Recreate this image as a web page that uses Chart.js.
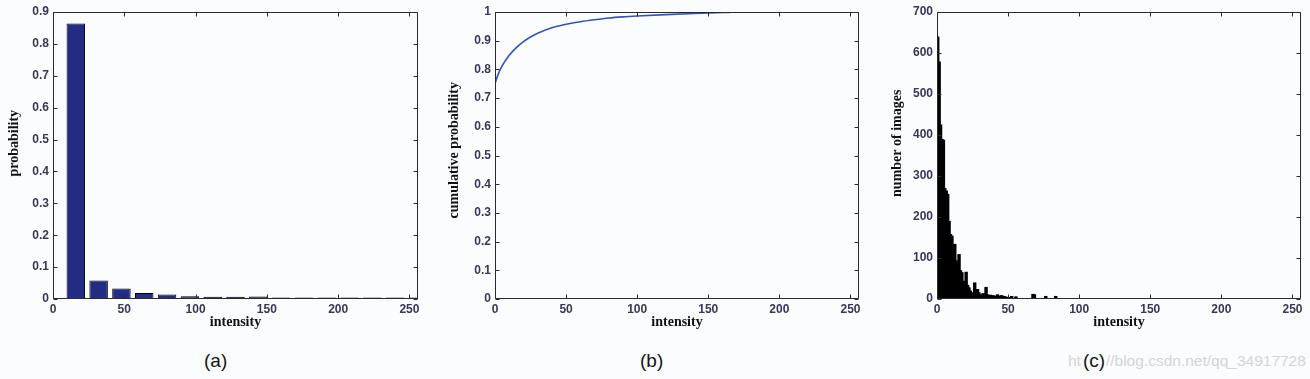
<!DOCTYPE html>
<html><head><meta charset="utf-8">
<script src="https://cdn.jsdelivr.net/npm/chart.js@4.4.0/dist/chart.umd.min.js"></script>
<style>
html,body{margin:0;padding:0;background:#fbfcfe;width:1310px;height:379px;overflow:hidden;position:relative;font-family:"Liberation Sans",Arial,sans-serif}
.panel{position:absolute;top:0;width:430px;height:340px}
.cap{position:absolute;top:350px;font-size:19px;color:#151515;line-height:22px;background:#fbfcfe;padding:0 1px}
.wm{position:absolute;left:1068px;top:352px;font-size:15.5px;line-height:18px;color:#d4d4d4;white-space:nowrap}
</style></head><body>
<div class="panel" style="left:0"><canvas id="ca" width="430" height="340"></canvas></div>
<div class="panel" style="left:440px"><canvas id="cb" width="430" height="340"></canvas></div>
<div class="panel" style="left:880px"><canvas id="cc" width="430" height="340"></canvas></div>
<div class="cap" style="left:203px">(a)</div>
<div class="cap" style="left:639px">(b)</div>
<div class="wm">https://blog.csdn.net/qq_34917728</div>
<div class="cap" style="left:1082px">(c)</div>
<script>
// ---- data ----
const intensityTicks = [0, 50, 100, 150, 200, 250];

// (a) probability histogram, 16 bins of width 16
const probBinCenters = [16, 32, 48, 64, 80, 96, 112, 128, 144, 160, 176, 192, 208, 224, 240, 256];
const probValues = [0.864, 0.058, 0.033, 0.019, 0.014, 0.009, 0.007, 0.007, 0.008, 0.005, 0.005, 0.005, 0.005, 0.005, 0.005, 0.005];
const probTicks = [0, 0.1, 0.2, 0.3, 0.4, 0.5, 0.6, 0.7, 0.8, 0.9];

// (b) cumulative probability
const cdfIntensity = [0, 2, 5, 10, 15, 20, 25, 30, 40, 50, 60, 70, 80, 90, 100, 120, 140, 160, 172, 200, 256];
const cdfValues = [0.75, 0.78, 0.812, 0.849, 0.876, 0.897, 0.913, 0.926, 0.945, 0.957, 0.966, 0.973, 0.979, 0.983, 0.986, 0.991, 0.995, 0.998, 1.0, 1.0, 1.0];
const cdfTicks = [0, 0.1, 0.2, 0.3, 0.4, 0.5, 0.6, 0.7, 0.8, 0.9, 1];

// (c) number of images per intensity value (bins of width 1 starting at 0)
const countValues = [
  638, 577, 423, 388, 386, 268, 262, 254, 188, 156,
  152, 99, 132, 92, 87, 107, 68, 63, 42, 40,
  64, 32, 26, 18, 14, 11, 38, 18, 22, 14,
  9, 7, 12, 6, 27, 9, 6, 8, 6, 7,
  5, 4, 9, 6, 4, 7, 3, 5, 2, 3,
  0, 2, 5, 0, 0, 4, 0, 0, 0, 0,
  0, 0, 0, 0, 0, 0, 0, 10, 9, 0,
  0, 0, 0, 0, 0, 0, 5, 0, 0, 0,
  0, 0, 0, 5, 0
];
const countTicks = [0, 100, 200, 300, 400, 500, 600, 700];

// ---- helpers ----
const TICK_FONT = {family: '"Liberation Sans", Arial, sans-serif', size: 12, weight: 'bold'};
const TITLE_FONT = {family: '"Liberation Serif", "Times New Roman", serif', size: 14, weight: 'bold'};
const TICK_COLOR = '#3a3755';

const framePlugin = {
  id: 'frame',
  afterDraw(chart) {
    const {ctx, chartArea: a, scales: {x, y}} = chart;
    const L = Math.round(a.left) + 0.5, R = Math.round(a.right) - 0.5;
    const T = Math.round(a.top) + 0.5, B = Math.round(a.bottom) - 0.5;
    ctx.save();
    ctx.strokeStyle = '#2a2a2a';
    ctx.lineWidth = 1;
    ctx.beginPath();
    ctx.rect(L, T, R - L, B - T);
    const len = 4;
    x.ticks.forEach(t => {
      const p = Math.round(x.getPixelForValue(t.value)) + 0.5;
      ctx.moveTo(p, B); ctx.lineTo(p, B - len);
      ctx.moveTo(p, T); ctx.lineTo(p, T + len);
    });
    y.ticks.forEach(t => {
      const p = Math.round(y.getPixelForValue(t.value)) + 0.5;
      ctx.moveTo(L, p); ctx.lineTo(L + len, p);
      ctx.moveTo(R, p); ctx.lineTo(R - len, p);
    });
    ctx.stroke();
    ctx.restore();
  }
};

function xAxis(title) {
  return {
    type: 'linear', min: 0, max: 256, offset: false,
    afterBuildTicks: s => { s.ticks = intensityTicks.map(v => ({value: v})); },
    afterFit: s => { s.height = 41; },
    grid: {display: false, drawTicks: false},
    border: {display: false},
    ticks: {font: TICK_FONT, color: TICK_COLOR, padding: 3, maxRotation: 0, autoSkip: false, callback: v => String(v)},
    title: {display: true, text: title, font: TITLE_FONT, color: '#111', padding: {top: 0, bottom: 9}}
  };
}
function yAxis(title, ticks, max, width, titlePad) {
  return {
    type: 'linear', min: 0, max: max,
    afterBuildTicks: s => { s.ticks = ticks.map(v => ({value: v})); },
    afterFit: s => { s.width = width; },
    grid: {display: false, drawTicks: false},
    border: {display: false},
    ticks: {font: TICK_FONT, color: TICK_COLOR, padding: 4, autoSkip: false, callback: v => String(v)},
    title: {display: true, text: title, font: TITLE_FONT, color: '#111', padding: {top: titlePad, bottom: 0}}
  };
}
const baseOpts = {
  responsive: false, animation: false, devicePixelRatio: 1,
  plugins: {legend: {display: false}, tooltip: {enabled: false}}
};

// (a)
new Chart(document.getElementById('ca'), {
  type: 'bar',
  data: {datasets: [{
    data: probBinCenters.map((c, i) => ({x: c, y: probValues[i]})),
    backgroundColor: '#222c84', borderColor: '#000000', borderWidth: 1, borderSkipped: 'start',
    categoryPercentage: 1, barPercentage: 0.81
  }]},
  options: Object.assign({}, baseOpts, {
    layout: {padding: {top: 12, right: 12, left: 0, bottom: 0}},
    scales: {x: xAxis('intensity'), y: yAxis('       probability', probTicks, 0.9, 53, 6)}
  }),
  plugins: [framePlugin]
});

// (b)
new Chart(document.getElementById('cb'), {
  type: 'line',
  data: {datasets: [{
    data: cdfIntensity.map((v, i) => ({x: v, y: cdfValues[i]})),
    borderColor: '#3453b8', borderWidth: 1.6, pointRadius: 0, fill: false,
    cubicInterpolationMode: 'monotone'
  }]},
  options: Object.assign({}, baseOpts, {
    layout: {padding: {top: 12, right: 11, left: 0, bottom: 0}},
    scales: {x: xAxis('intensity'), y: yAxis('   cumulative probability', cdfTicks, 1, 55, 6)}
  }),
  plugins: [framePlugin]
});

// (c)
new Chart(document.getElementById('cc'), {
  type: 'bar',
  data: {datasets: [{
    data: countValues.map((v, i) => ({x: i + 0.5, y: v})),
    backgroundColor: '#000000', borderWidth: 0, inflateAmount: 1,
    categoryPercentage: 1, barPercentage: 1
  }]},
  options: Object.assign({}, baseOpts, {
    layout: {padding: {top: 12, right: 9, left: 0, bottom: 0}},
    scales: {x: xAxis('intensity'), y: yAxis('       number of images', countTicks, 700, 57, 9)}
  }),
  plugins: [framePlugin]
});
</script>
</body></html>
